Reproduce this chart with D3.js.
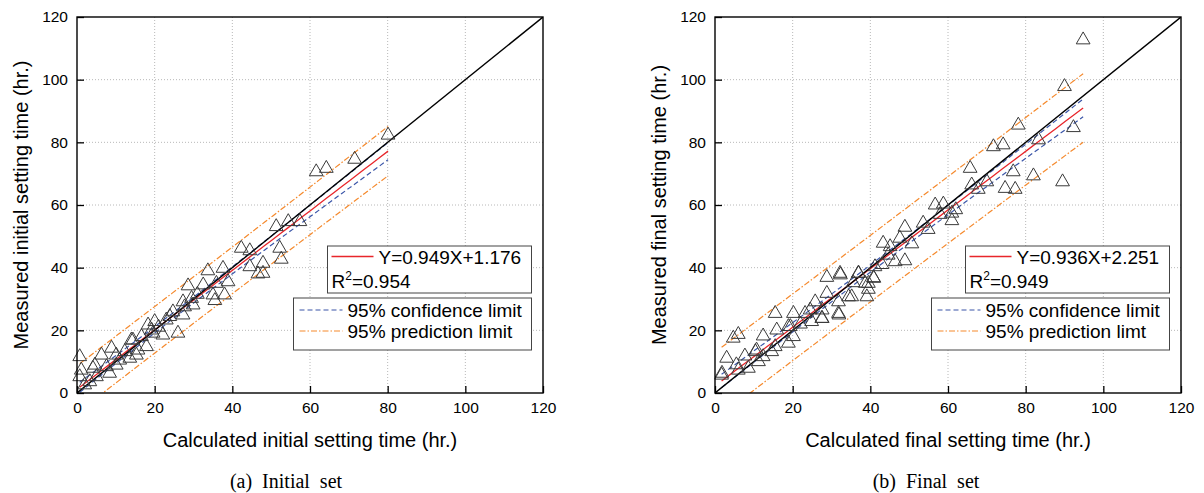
<!DOCTYPE html>
<meta charset="utf-8">
<style>
    * {
        margin: 0;
        padding: 0;
    }

    body {
        background: #fff;
    }

    svg {
        display: block;
    }

    text {
        font-family: "Liberation Sans", Arial, sans-serif;
        fill: #000;
    }
</style>

<body>
    <svg width="1204" height="493"></svg>
    <script src="https://cdn.jsdelivr.net/npm/d3@7"></script>
    <script>
        // axis ticks (both panels share them)
        const tickValues = [0, 20, 40, 60, 80, 100, 120];

        // (a) initial set: calculated vs measured, hours
        const initCalc = [80.1, 71.5, 61.6, 64.2, 51.3, 54.4, 57.4, 52.2, 52.6, 42.3, 44.5, 44.5, 47.9, 46.6, 47.9, 33.7, 37.6,
            28.6, 32.5, 35.9, 38.9, 35.0, 38.0, 35.5, 27.3, 29.9, 24.7, 27.3, 20.0, 18.3, 23.9, 23.0, 19.6, 22.1, 26.0, 16.6, 14.4,
            17.9, 15.7, 8.9, 6.3, 12.3, 13.6, 11.0, 0.7, 4.1, 7.6, 0.7, 5.0, 2.0, 3.3, 8.4, 10.1, 15.3, 29.5, 27.7, 19.2, 14.0,
            10.1, 1.1, 4.6, 21.0, 31.0];
        const initMeas = [82.3, 74.6, 70.6, 71.7, 53.1, 54.7, 54.7, 46.2, 42.7, 46.2, 45.4, 40.3, 41.4, 38.0, 38.2, 39.0, 39.8,
            34.2, 34.5, 35.0, 35.5, 31.3, 31.3, 29.5, 29.1, 28.1, 25.9, 24.9, 22.8, 21.7, 24.4, 23.3, 19.1, 18.5, 19.1, 18.0, 16.9,
            14.8, 13.7, 14.3, 12.1, 13.2, 11.1, 10.5, 11.6, 7.9, 8.4, 5.2, 5.2, 2.6, 3.6, 6.3, 8.9, 12.1, 30.2, 27.5, 20.1, 16.9,
            12.1, 7.3, 8.9, 21.0, 31.5];

        // (b) final set
        const finalCalc = [94.8, 90.0, 92.3, 89.5, 78.1, 71.7, 74.2, 83.3, 82.0, 76.8, 74.7, 77.3, 65.7, 66.1, 70.0, 67.8, 56.7,
            58.8, 61.0, 61.0, 48.9, 53.6, 54.9, 43.3, 45.1, 47.6, 50.7, 44.6, 46.4, 48.9, 41.2, 40.8, 39.5, 39.5, 39.1, 36.9, 32.2,
            28.8, 35.2, 35.6, 28.8, 31.8, 31.8, 25.8, 27.5, 23.2, 20.2, 15.5, 24.9, 15.9, 18.9, 20.2, 18.9, 12.4, 15.5, 4.7, 6.0,
            3.0, 7.7, 10.7, 12.4, 8.6, 1.7, 6.0, 11.2, 14.6, 32.3, 37.0, 40.9, 38.7, 34.4, 24.5, 27.6, 27.6, 31.9, 19.4, 10.4,
            1.8, 5.5, 22.0, 43.0, 58.0, 62.0];
        const finalMeas = [112.7, 97.8, 84.7, 67.4, 85.5, 78.6, 79.2, 80.8, 69.3, 70.6, 65.3, 65.0, 71.7, 66.4, 67.4, 65.0, 60.0,
            60.3, 57.4, 55.0, 52.9, 54.2, 52.2, 47.8, 46.7, 49.4, 47.6, 44.0, 41.9, 42.2, 40.3, 36.8, 35.0, 33.1, 30.7, 38.2, 38.2,
            36.9, 30.7, 35.2, 31.8, 29.1, 25.4, 29.1, 23.8, 25.4, 25.4, 25.4, 22.8, 20.1, 21.2, 18.0, 15.9, 18.2, 14.8, 17.5, 18.7,
            11.1, 11.8, 13.7, 11.6, 7.9, 5.7, 7.3, 10.0, 13.2, 37.7, 38.2, 36.6, 35.0, 30.7, 26.5, 26.5, 23.8, 24.9, 21.2, 13.2,
            6.3, 9.0, 22.0, 41.0, 57.0, 58.5];

        // regression results printed on the chart
        const initFit = [0.949, 1.176];
        const finalFit = [0.936, 2.251];
        const initR2 = '0.954';
        const finalR2 = '0.949';
        const initSE = 3.7;
        const finalSE = 5.3;
        const bandLabels = ['95% confidence limit', '95% prediction limit'];
        const bandLabelsFinal = ['95% confidence limit', '95% prediction limt'];

        const svg = d3.select('svg');
        const tCrit = 1.99;

        function drawPanel(o) {
            const x = d3.scaleLinear().domain([0, 120]).range([o.left, o.left + 466]);
            const y = d3.scaleLinear().domain([0, 120]).range([393, 17]);
            const g = svg.append('g');

            // dotted grid
            g.append('g').selectAll('line').data(tickValues.slice(1, -1)).join('line')
                .attr('x1', d => x(d)).attr('x2', d => x(d)).attr('y1', y(0)).attr('y2', y(120))
                .attr('stroke', '#b8b8b8').attr('stroke-dasharray', '1,2');
            g.append('g').selectAll('line').data(tickValues.slice(1, -1)).join('line')
                .attr('y1', d => y(d)).attr('y2', d => y(d)).attr('x1', x(0)).attr('x2', x(120))
                .attr('stroke', '#b8b8b8').attr('stroke-dasharray', '1,2');

            // axes, ticks point inward
            const xa = g.append('g').attr('transform', `translate(0,${y(0)})`)
                .call(d3.axisBottom(x).tickValues(tickValues).tickSizeInner(-7).tickSizeOuter(0).tickPadding(9));
            const ya = g.append('g').attr('transform', `translate(${x(0)},0)`)
                .call(d3.axisLeft(y).tickValues(tickValues).tickSizeInner(-7).tickSizeOuter(0).tickPadding(9));
            [xa, ya].forEach(a => {
                a.select('.domain').remove();
                a.selectAll('line').attr('stroke', '#000').attr('stroke-width', 1.3);
                a.selectAll('text').attr('font-size', 15.5).attr('fill', '#111')
                    .attr('font-family', '"Liberation Sans", Arial, sans-serif');
            });

            // regression lines + bands
            const cx = o.calc, n = cx.length;
            const [b, a] = o.fit;
            const mx = d3.mean(cx);
            const sxx = d3.sum(cx, v => (v - mx) ** 2);
            const s = o.se;
            const [x0, x1] = d3.extent(cx);
            const xs = d3.range(0, 41).map(i => x0 + (x1 - x0) * i / 40);
            const conf = v => tCrit * s * Math.sqrt(1 / n + (v - mx) ** 2 / sxx);
            const pred = v => tCrit * s * Math.sqrt(1 + 1 / n + (v - mx) ** 2 / sxx);
            const clipId = 'clip' + o.left;
            g.append('clipPath').attr('id', clipId).append('rect')
                .attr('x', x(0)).attr('y', y(120)).attr('width', x(120) - x(0)).attr('height', y(0) - y(120));
            const line = d3.line().x(d => x(d[0])).y(d => y(d[1]));
            const lines = g.append('g').attr('clip-path', `url(#${clipId})`).attr('fill', 'none');
            [[pred, 1], [pred, -1]].forEach(([f, sg]) => {
                lines.append('path').attr('d', line(xs.map(v => [v, a + b * v + sg * f(v)])))
                    .attr('stroke', '#f5892c').attr('stroke-width', 1.2).attr('stroke-dasharray', '6,2,1.5,2');
            });
            [[conf, 1], [conf, -1]].forEach(([f, sg]) => {
                lines.append('path').attr('d', line(xs.map(v => [v, a + b * v + sg * f(v)])))
                    .attr('stroke', '#3a55a8').attr('stroke-width', 1.2).attr('stroke-dasharray', '5,3');
            });
            lines.append('path').attr('d', line(xs.map(v => [v, a + b * v])))
                .attr('stroke', '#e8262b').attr('stroke-width', 1.3);
            lines.append('path').attr('d', line([[0, 0], [120, 120]]))
                .attr('stroke', '#000').attr('stroke-width', 1.4);

            // points
            g.append('g').selectAll('path').data(cx).join('path')
                .attr('transform', (d, i) => `translate(${x(d)},${y(o.meas[i])})`)
                .attr('d', d3.symbol(d3.symbolTriangle, 82))
                .attr('fill', 'none').attr('stroke', '#3a3a3a').attr('stroke-width', 1);

            // frame
            g.append('rect').attr('x', x(0)).attr('y', y(120)).attr('width', x(120) - x(0)).attr('height', y(0) - y(120))
                .attr('fill', 'none').attr('stroke', '#000').attr('stroke-width', 1.4);

            // legends
            const lx = x(0) + 250.5;
            const l1 = g.append('g');
            l1.append('rect').attr('x', lx).attr('y', 246).attr('width', 204).attr('height', 47)
                .attr('fill', '#fff').attr('stroke', '#444');
            l1.append('line').attr('x1', lx + 4).attr('x2', lx + 46).attr('y1', 256.5).attr('y2', 256.5)
                .attr('stroke', '#e8262b').attr('stroke-width', 1.3);
            l1.append('text').attr('x', lx + 51).attr('y', 264).attr('font-size', 19)
                .text(`Y=${o.fit[0]}X+${o.fit[1]}`);
            const r2 = l1.append('text').attr('x', lx + 4).attr('y', 288).attr('font-size', 19);
            r2.append('tspan').text('R');
            r2.append('tspan').attr('font-size', 12).attr('dy', -8).text('2');
            r2.append('tspan').attr('dy', 8).text('=' + o.r2);

            const bx = lx - 34;
            const l2 = g.append('g');
            l2.append('rect').attr('x', bx).attr('y', 298).attr('width', 238).attr('height', 52)
                .attr('fill', '#fff').attr('stroke', '#444');
            const styles = [['#3a55a8', '5,3'], ['#f5892c', '6,2,1.5,2']];
            o.labels.forEach((lab, i) => {
                const yy = 310 + i * 21;
                l2.append('line').attr('x1', bx + 6).attr('x2', bx + 49).attr('y1', yy).attr('y2', yy)
                    .attr('stroke', styles[i][0]).attr('stroke-width', 1.2).attr('stroke-dasharray', styles[i][1]);
                l2.append('text').attr('x', bx + 54).attr('y', yy + 6.5).attr('font-size', 19).text(lab);
            });

            // titles
            g.append('text').attr('x', x(60)).attr('y', 447).attr('text-anchor', 'middle')
                .attr('font-size', 20).text(o.xTitle);
            g.append('text').attr('transform', `translate(${x(0) - 49},${y(60)}) rotate(-90)`)
                .attr('text-anchor', 'middle').attr('font-size', 20).text(o.yTitle);
            g.append('text').attr('x', o.capX).attr('y', 488).attr('text-anchor', 'middle')
                .attr('font-size', 20).style('font-family', '"Liberation Serif", "Times New Roman", serif')
                .attr('xml:space', 'preserve').text(o.caption);
        }

        drawPanel({
            left: 77, calc: initCalc, meas: initMeas, fit: initFit, r2: initR2, se: initSE, labels: bandLabels,
            xTitle: 'Calculated initial setting time (hr.)', yTitle: 'Measured initial setting time (hr.)',
            caption: '(a)  Initial  set', capX: 286
        });
        drawPanel({
            left: 715, calc: finalCalc, meas: finalMeas, fit: finalFit, r2: finalR2, se: finalSE, labels: bandLabelsFinal,
            xTitle: 'Calculated final setting time (hr.)', yTitle: 'Measured final setting time (hr.)',
            caption: '(b)  Final  set', capX: 926
        });
    </script>
</body>

</html>
